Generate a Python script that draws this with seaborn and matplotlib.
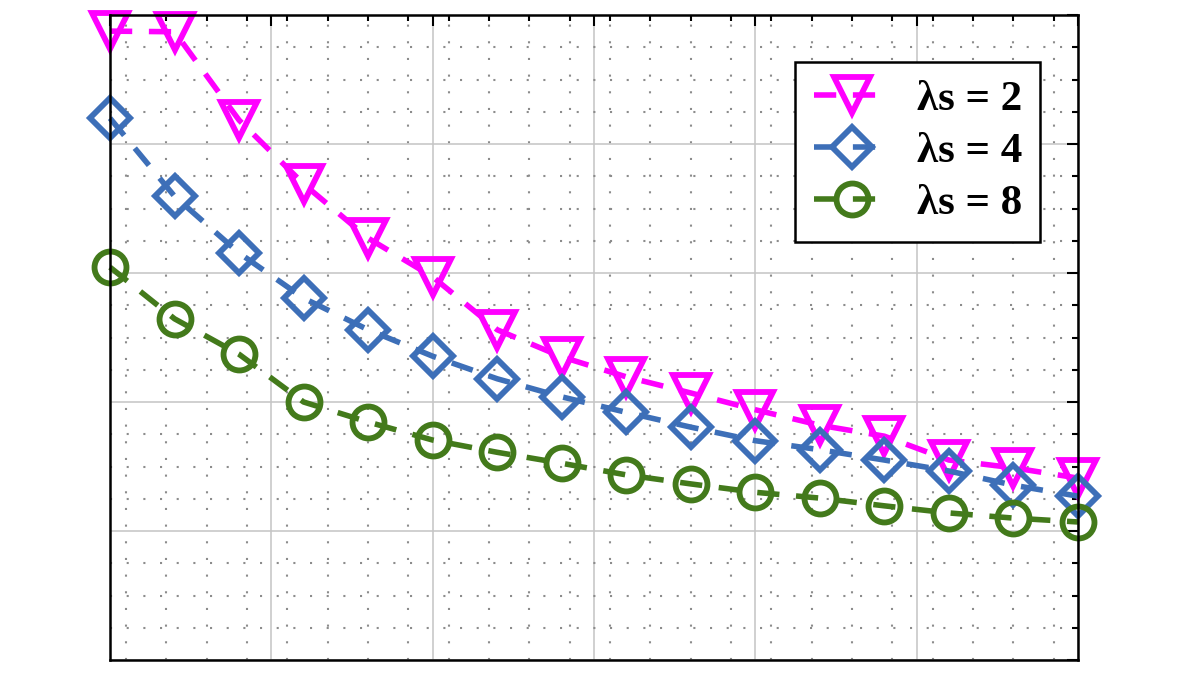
import matplotlib
matplotlib.use("Agg")
import matplotlib.pyplot as plt
import seaborn as sns
import numpy as np
from matplotlib.ticker import MultipleLocator

# Values (x = sample index, y normalised 0..1)
steps = list(range(1, 17))
lam2 = [0.975, 0.974, 0.837, 0.738, 0.654, 0.594, 0.512, 0.470,
        0.439, 0.414, 0.388, 0.364, 0.347, 0.310, 0.298, 0.282]
lam4 = [0.840, 0.719, 0.631, 0.561, 0.512, 0.471, 0.436, 0.408,
        0.384, 0.361, 0.340, 0.326, 0.310, 0.293, 0.271, 0.254]
lam8 = [0.609, 0.529, 0.474, 0.400, 0.369, 0.341, 0.322, 0.305,
        0.287, 0.273, 0.260, 0.251, 0.239, 0.228, 0.220, 0.214]

labels = ["λs = 2", "λs = 4", "λs = 8"]
colors = ["#FF00FF", "#3D6FB8", "#437A1B"]
markers = ["v", "D", "o"]
sizes = [26, 20, 23]

sns.set_theme(style="white")

fig = plt.figure(figsize=(12, 6.75), dpi=100, facecolor="white")
ax = fig.add_axes([110 / 1200, 15 / 675, 968 / 1200, 645 / 675])
ax.set_facecolor("white")

for vals, lab, c, m, s in zip([lam2, lam4, lam8], labels, colors, markers, sizes):
    sns.lineplot(x=steps, y=vals, ax=ax, color=c, marker=m, ms=s,
                 mec=c, mfc="none", mew=4.2, lw=4,
                 linestyle=(0, (4, 3)), label=lab, clip_on=False)

ax.set_xlim(1, 16)
ax.set_ylim(0, 1)
ax.set_xticks(np.linspace(1, 16, 7))
ax.xaxis.set_minor_locator(MultipleLocator(15 / 24))
ax.yaxis.set_major_locator(MultipleLocator(0.2))
ax.yaxis.set_minor_locator(MultipleLocator(0.05))

# grid: solid light major, dotted minor
ax.grid(which="major", color="#c4c4c4", lw=1.1, ls="-", zorder=0)
ax.grid(which="minor", color="#8c8c8c", lw=1.5, ls=(0, (1, 7)), zorder=0)
ax.set_axisbelow(True)

ax.tick_params(which="both", direction="in", top=True, right=True,
               labelbottom=False, labelleft=False, color="black", width=1.5)
ax.tick_params(which="major", length=8)
ax.tick_params(which="minor", length=4.5)
for sp in ax.spines.values():
    sp.set_color("black")
    sp.set_linewidth(1.8)

ax.set_xlabel("")
ax.set_ylabel("")

leg = ax.legend(loc="upper right", bbox_to_anchor=(0.961, 0.927),
                borderaxespad=0, fancybox=False, framealpha=1,
                edgecolor="black", handlelength=1.8, handletextpad=0.6,
                labelspacing=0.3, borderpad=0.42,
                prop={"family": "Liberation Serif", "weight": "bold", "size": 31})
leg.get_frame().set_linewidth(1.8)
for t in leg.get_texts():
    t.set_color("black")

fig.savefig("out.png", dpi=100, facecolor="white")
